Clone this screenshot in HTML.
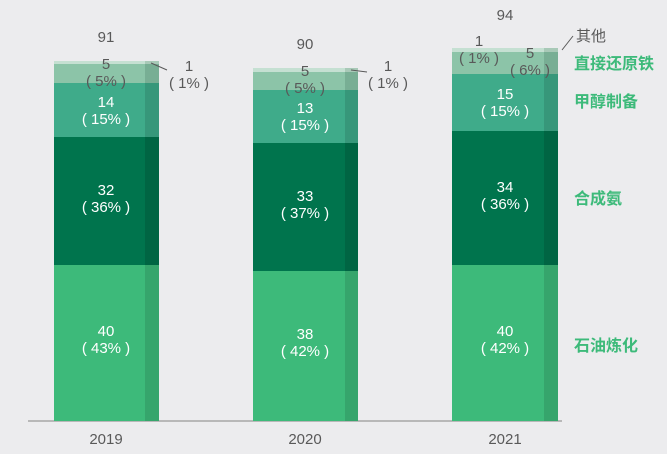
<!DOCTYPE html>
<html><head><meta charset="utf-8"><style>
html,body{margin:0;padding:0;background:#ececee;}
svg{display:block;font-family:"Liberation Sans","Noto Sans CJK SC",sans-serif;}
.w{fill:#fff;font-size:15px;text-anchor:middle}
.g{fill:#595959;font-size:15px;text-anchor:middle}
.l{fill:#3dba7a;font-size:16px;font-weight:bold}
</style></head><body>
<svg width="667" height="454" viewBox="0 0 667 454">
<rect width="667" height="454" fill="#ececee"/>
<line x1="28" y1="421" x2="562" y2="421" stroke="#a6a6a6" stroke-width="1.5"/>
<g>
<rect x="54" y="61" width="91" height="3" fill="#c5e0d2"/><rect x="145" y="61" width="14" height="3" fill="#a8c9b7"/>
<rect x="54" y="64" width="91" height="19" fill="#8cc4a8"/><rect x="145" y="64" width="14" height="19" fill="#78ae94"/>
<rect x="54" y="83" width="91" height="54" fill="#3fab8a"/><rect x="145" y="83" width="14" height="54" fill="#37977a"/>
<rect x="54" y="137" width="91" height="128" fill="#00744d"/><rect x="145" y="137" width="14" height="128" fill="#006543"/>
<rect x="54" y="265" width="91" height="156" fill="#3dba7a"/><rect x="145" y="265" width="14" height="156" fill="#36a56c"/>
</g>
<g>
<rect x="253" y="68" width="92" height="4" fill="#c5e0d2"/><rect x="345" y="68" width="13" height="4" fill="#a8c9b7"/>
<rect x="253" y="72" width="92" height="18" fill="#8cc4a8"/><rect x="345" y="72" width="13" height="18" fill="#78ae94"/>
<rect x="253" y="90" width="92" height="53" fill="#3fab8a"/><rect x="345" y="90" width="13" height="53" fill="#37977a"/>
<rect x="253" y="143" width="92" height="128" fill="#00744d"/><rect x="345" y="143" width="13" height="128" fill="#006543"/>
<rect x="253" y="271" width="92" height="150" fill="#3dba7a"/><rect x="345" y="271" width="13" height="150" fill="#36a56c"/>
</g>
<g>
<rect x="452" y="48" width="92" height="4" fill="#c5e0d2"/><rect x="544" y="48" width="14" height="4" fill="#a8c9b7"/>
<rect x="452" y="52" width="92" height="22" fill="#8cc4a8"/><rect x="544" y="52" width="14" height="22" fill="#78ae94"/>
<rect x="452" y="74" width="92" height="57" fill="#3fab8a"/><rect x="544" y="74" width="14" height="57" fill="#37977a"/>
<rect x="452" y="131" width="92" height="134" fill="#00744d"/><rect x="544" y="131" width="14" height="134" fill="#006543"/>
<rect x="452" y="265" width="92" height="156" fill="#3dba7a"/><rect x="544" y="265" width="14" height="156" fill="#36a56c"/>
</g>
<text class="g" x="106" y="42" font-size="16">91</text>
<text class="g" x="305" y="49" font-size="16">90</text>
<text class="g" x="505" y="20" font-size="16">94</text>
<text class="g" x="106" y="69">5</text><text class="g" x="106" y="86">( 5% )</text>
<line x1="151" y1="63" x2="167" y2="70" stroke="#595959"/>
<text class="g" x="189" y="71">1</text><text class="g" x="189" y="88">( 1% )</text>
<text class="w" x="106" y="107">14</text><text class="w" x="106" y="124">( 15% )</text>
<text class="w" x="106" y="195">32</text><text class="w" x="106" y="212">( 36% )</text>
<text class="w" x="106" y="336">40</text><text class="w" x="106" y="353">( 43% )</text>
<text class="g" x="305" y="76">5</text><text class="g" x="305" y="93">( 5% )</text>
<line x1="351" y1="70" x2="367" y2="72" stroke="#595959"/>
<text class="g" x="388" y="71">1</text><text class="g" x="388" y="88">( 1% )</text>
<text class="w" x="305" y="113">13</text><text class="w" x="305" y="130">( 15% )</text>
<text class="w" x="305" y="201">33</text><text class="w" x="305" y="218">( 37% )</text>
<text class="w" x="305" y="339">38</text><text class="w" x="305" y="356">( 42% )</text>
<text class="g" x="479" y="46">1</text><text class="g" x="479" y="63">( 1% )</text>
<text class="g" x="530" y="58">5</text><text class="g" x="530" y="75">( 6% )</text>
<line x1="562" y1="50" x2="573" y2="36" stroke="#595959"/>
<text class="g" x="591" y="41">其他</text>
<text class="w" x="505" y="99">15</text><text class="w" x="505" y="116">( 15% )</text>
<text class="w" x="505" y="192">34</text><text class="w" x="505" y="209">( 36% )</text>
<text class="w" x="505" y="336">40</text><text class="w" x="505" y="353">( 42% )</text>
<text class="l" x="574" y="69">直接还原铁</text>
<text class="l" x="574" y="107">甲醇制备</text>
<text class="l" x="574" y="204">合成氨</text>
<text class="l" x="574" y="351">石油炼化</text>
<text class="g" x="106" y="444">2019</text>
<text class="g" x="305" y="444">2020</text>
<text class="g" x="505" y="444">2021</text>
</svg>
</body></html>
